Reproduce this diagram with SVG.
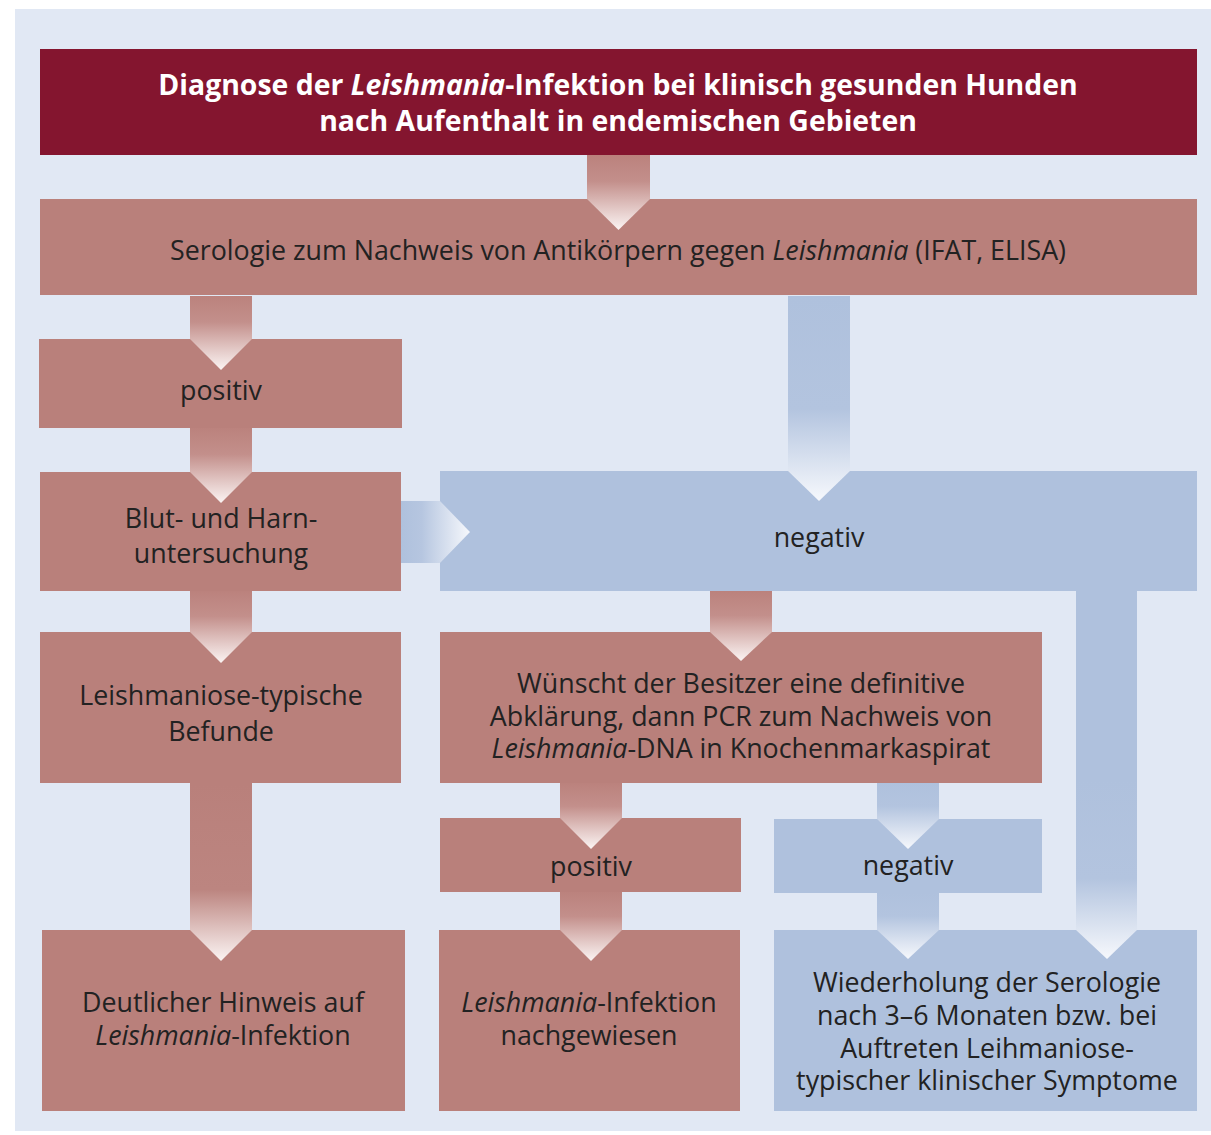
<svg xmlns="http://www.w3.org/2000/svg" width="1211" height="1135" viewBox="0 0 1211 1135">
<style>
.bg{fill:#e1e8f4}
.hdr{fill:#84152f}
.p{fill:#b9807b}
.b{fill:#afc1dd}
text{font-family:"Open Sans","Noto Sans","Liberation Sans",sans-serif;font-size:26.8px;fill:#222;text-anchor:middle}
.ht{font-weight:bold;fill:#fff;font-size:28.4px}
</style>
<defs>
<linearGradient id="gp" x1="0" y1="0" x2="0" y2="1"><stop offset="0" stop-color="#bb827d"/><stop offset="0.35" stop-color="#c38f8b"/><stop offset="1" stop-color="#fbf4f3"/></linearGradient>
<linearGradient id="gpl" x1="0" y1="0" x2="0" y2="1"><stop offset="0" stop-color="#b9807b"/><stop offset="0.6" stop-color="#bc8580"/><stop offset="1" stop-color="#fbf4f3"/></linearGradient>
<linearGradient id="gb" x1="0" y1="0" x2="0" y2="1"><stop offset="0" stop-color="#afc1dd"/><stop offset="0.35" stop-color="#b3c4df"/><stop offset="1" stop-color="#f6f8fc"/></linearGradient>
<linearGradient id="gbl" x1="0" y1="0" x2="0" y2="1"><stop offset="0" stop-color="#afc1dd"/><stop offset="0.55" stop-color="#b3c4df"/><stop offset="1" stop-color="#f6f8fc"/></linearGradient>
<linearGradient id="gbh" x1="0" y1="0" x2="1" y2="0"><stop offset="0" stop-color="#afc1dd"/><stop offset="0.3" stop-color="#b6c6e0"/><stop offset="1" stop-color="#f6f8fc"/></linearGradient>
</defs>
<rect class="bg" x="15" y="9" width="1196" height="1122"/>
<g id="header"><rect class="hdr" x="40" y="49" width="1157" height="106"/>
<text class="ht" x="618" y="95">Diagnose der <tspan font-style="italic">Leishmania</tspan>-Infektion bei klinisch gesunden Hunden</text>
<text class="ht" x="618" y="131">nach Aufenthalt in endemischen Gebieten</text></g>
<g id="serologie"><rect class="p" x="40" y="199" width="1157" height="96"/>
<text x="618" y="260">Serologie zum Nachweis von Antikörpern gegen <tspan font-style="italic">Leishmania</tspan> (IFAT, ELISA)</text></g>
<g id="positiv1"><rect class="p" x="39" y="339" width="363" height="89"/><text x="221" y="400">positiv</text></g>
<g id="blut"><rect class="p" x="40" y="472" width="361" height="119"/><text x="221" y="528">Blut- und Harn-</text><text x="221" y="563">untersuchung</text></g>
<g id="negativ1"><rect class="b" x="440" y="471" width="757" height="120"/><rect class="b" x="1076" y="590" width="61" height="200"/><text x="819" y="547">negativ</text></g>
<g id="befunde"><rect class="p" x="40" y="632" width="361" height="151"/><text x="221" y="705">Leishmaniose-typische</text><text x="221" y="741">Befunde</text></g>
<g id="pcr"><rect class="p" x="440" y="632" width="602" height="151"/><text x="741" y="693">Wünscht der Besitzer eine definitive</text><text x="741" y="726">Abklärung, dann PCR zum Nachweis von</text><text x="741" y="758"><tspan font-style="italic">Leishmania</tspan>-DNA in Knochenmarkaspirat</text></g>
<g id="positiv2"><rect class="p" x="440" y="818" width="301" height="74"/><text x="591" y="876">positiv</text></g>
<g id="negativ2"><rect class="b" x="774" y="819" width="268" height="74"/><text x="908" y="875">negativ</text></g>
<g id="hinweis"><rect class="p" x="42" y="930" width="363" height="181"/><text x="223" y="1012">Deutlicher Hinweis auf</text><text x="223" y="1045"><tspan font-style="italic">Leishmania</tspan>-Infektion</text></g>
<g id="nachgewiesen"><rect class="p" x="439" y="930" width="301" height="181"/><text x="589" y="1012"><tspan font-style="italic">Leishmania</tspan>-Infektion</text><text x="589" y="1045">nachgewiesen</text></g>
<g id="wiederholung"><rect class="b" x="774" y="930" width="423" height="181"/><text x="987" y="992">Wiederholung der Serologie</text><text x="987" y="1025">nach 3–6 Monaten bzw. bei</text><text x="987" y="1058">Auftreten Leihmaniose-</text><text x="987" y="1090">typischer klinischer Symptome</text></g>
<g id="connectors">
<path fill="url(#gp)" d="M587 155H650V199L618.5 230L587 199Z"/>
<path fill="url(#gp)" d="M190 296H252V339L221 370L190 339Z"/>
<path fill="url(#gp)" d="M190 428H252V472L221 503L190 472Z"/>
<path fill="url(#gp)" d="M190 591H252V632L221 663L190 632Z"/>
<path fill="url(#gpl)" d="M190 783H252V930L221 961L190 930Z"/>
<path fill="url(#gp)" d="M710 591H772V632L741 661L710 632Z"/>
<path fill="url(#gp)" d="M560 783H622V818L591 849L560 818Z"/>
<path fill="url(#gp)" d="M560 892H622V930L591 961L560 930Z"/>
<path fill="url(#gbl)" d="M788 296H850V471L819 501L788 471Z"/>
<path fill="url(#gbh)" d="M401 501H440V501L470 532L440 563H401Z"/>
<path fill="url(#gb)" d="M877 783H939V819L908 849L877 819Z"/>
<path fill="url(#gb)" d="M877 893H939V930L908 959L877 930Z"/>
<path fill="url(#gbl)" d="M1076 780H1137V930L1107 959L1076 930Z"/>
</g>
</svg>
